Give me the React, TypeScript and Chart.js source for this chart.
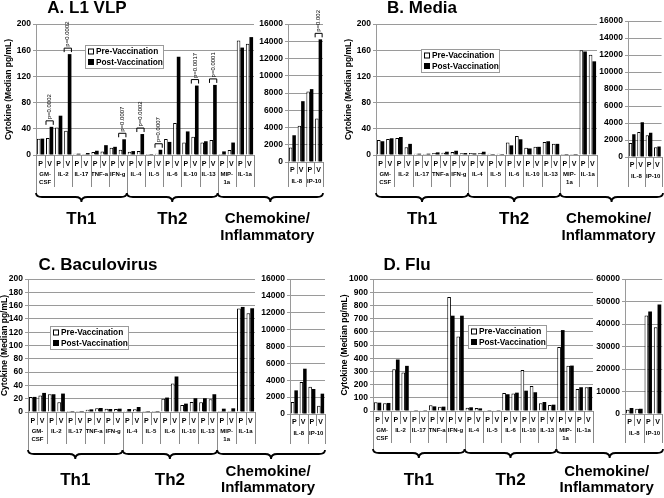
import React, { useEffect, useRef } from "react";
import { Chart, registerables } from "chart.js";

Chart.register(...registerables);

const FONT = '"Liberation Sans", Arial, Helvetica, sans-serif';
const GRID = "#9a9a9a";
const SEP = "#8a8a8a";

// ---------- categories ----------
const cytokines = ["GM-CSF", "IL-2", "IL-17", "TNF-a", "IFN-g", "IL-4", "IL-5", "IL-6", "IL-10", "IL-13", "MIP-1a", "IL-1a"];
const cytokineAxisLabels = [["GM-", "CSF"], "IL-2", "IL-17", "TNF-a", "IFN-g", "IL-4", "IL-5", "IL-6", "IL-10", "IL-13", ["MIP-", "1a"], "IL-1a"];
const chemokines = ["IL-8", "IP-10"];
const timepoints = ["P", "V"];
const groupLabelLines = [["Th1"], ["Th2"], ["Chemokine/", "Inflammatory"]];
const groupSizes = [5, 5, 2];
const seriesNames = ["Pre-Vaccination", "Post-Vaccination"];
const yAxisTitle = "Cytokine (Median pg/mL)";

// ---------- A. L1 VLP ----------
const vlpPre = [25, 26, 42, 37, 2, 1.5, 4.5, 5.5, 11, 8, 5, 6, 1.5, 2, 24.5, 49, 19, 28, 19, 23, 1.5, 7.6, 175, 170];
const vlpPost = [25, 43, 60, 154, 2, 3, 6.5, 15, 12.5, 24, 6, 32, 1.5, 8, 20, 150, 36, 106, 21, 107, 5.5, 19, 164, 180];
const vlpSecPre = [1670, 4190, 8180, 5040];
const vlpSecPost = [3100, 7050, 8450, 14220];
const vlpPIndex = [1, 3, 9, 11, 13, 17, 19];
const vlpPText = ["p=0.0002", "p=0.0002", "p=0.0007", "p=0.0002", "p=0.0007", "p=0.0017", "p=0.0001"];
const vlpSecPIndex = [3];
const vlpSecPText = ["p=0.002"];

// ---------- B. Media ----------
const mediaPre = [23, 24.5, 26, 12, 2, 1.5, 3, 3.5, 4.5, 2.5, 3, 3, 2, 2, 19, 29, 11, 12.5, 20, 17, 1.5, 1.5, 160, 153];
const mediaPost = [21, 25.5, 27.5, 17, 2, 2, 4, 5, 6.5, 3, 2.5, 5, 1.5, 1.5, 14.7, 24, 10, 12.5, 21, 17, 1.5, 1.5, 158, 143];
const mediaSecPre = [1650, 2940, 2550, 1140];
const mediaSecPost = [2670, 4080, 2860, 1250];

// ---------- C. Baculovirus ----------
const bacPre = [22.7, 25, 26.7, 14.6, 1.5, 1.5, 3.5, 5.5, 5, 4.5, 2, 4, 1.5, 1.5, 20, 43, 10.6, 15, 14.6, 19, 1.5, 1.5, 155.7, 148.6];
const bacPost = [22.7, 28.7, 26.7, 27.7, 1.5, 1.5, 4, 6, 4.5, 5, 4.5, 7.5, 1.5, 1.5, 21.7, 53.4, 12.6, 20.7, 20.7, 26.7, 5, 5.5, 158, 156];
const bacSecPre = [1420, 3790, 3240, 990];
const bacSecPost = [2800, 5370, 2960, 2410];

// ---------- D. Flu ----------
const fluPre = [66, 58, 316, 291, 1, 1, 43, 33, 863, 565, 25, 23, 1, 1, 137, 132, 311, 190, 58, 46, 484, 342, 167, 180];
const fluPost = [63, 61, 390, 342, 1, 1, 35, 33, 722, 722, 28, 20, 1, 1, 127, 139, 154, 142, 68, 48, 613, 344, 180, 182];
const fluSecPre = [1930, 2380, 43800, 38600];
const fluSecPost = [2670, 2380, 45600, 48700];

// ---------- axis ranges ----------
const smallAxisMax = 200;
const smallAxisStep = 20;
const fluAxisMax = 1000;
const fluAxisStep = 100;
const secAxisMax = 16000;
const secAxisStep = 2000;
const fluSecAxisMax = 60000;
const fluSecAxisStep = 10000;

const mainLabels = cytokines.flatMap(() => timepoints);
const secLabels = chemokines.flatMap(() => timepoints);

const panels = [
  {
    key: "A", title: "A. L1 VLP", x: 0, y: 0, w: 332, h: 250, titleX: 87, titleY: 8,
    main: { l: 36, r: 254, t: 24, b: 155 }, sec: { l: 288, r: 323, t: 24, b: 162 },
    yTitlePad: 4, legend: { x: 85, y: 45 }, thY: 219, chemY: [219, 236],
    pre: vlpPre, post: vlpPost, secPre: vlpSecPre, secPost: vlpSecPost,
    yMax: smallAxisMax, yStep: smallAxisStep, secMax: secAxisMax, secStep: secAxisStep,
    pIdx: vlpPIndex, pText: vlpPText, secPIdx: vlpSecPIndex, secPText: vlpSecPText,
  },
  {
    key: "B", title: "B. Media", x: 340, y: 0, w: 324, h: 250, titleX: 82, titleY: 8,
    main: { l: 36, r: 257, t: 24, b: 155 }, sec: { l: 288, r: 323, t: 21, b: 157 },
    yTitlePad: 4, legend: { x: 81, y: 49 }, thY: 219, chemY: [219, 236],
    pre: mediaPre, post: mediaPost, secPre: mediaSecPre, secPost: mediaSecPost,
    yMax: smallAxisMax, yStep: smallAxisStep, secMax: secAxisMax, secStep: secAxisStep,
    pIdx: [], pText: [], secPIdx: [], secPText: [],
  },
  {
    key: "C", title: "C. Baculovirus", x: 0, y: 240, w: 332, h: 258, titleX: 98, titleY: 25,
    main: { l: 28, r: 255, t: 39, b: 172 }, sec: { l: 290, r: 325, t: 39, b: 174 },
    yTitlePad: 0, legend: { x: 50, y: 86 }, thY: 240, chemY: [232, 248],
    pre: bacPre, post: bacPost, secPre: bacSecPre, secPost: bacSecPost,
    yMax: smallAxisMax, yStep: smallAxisStep, secMax: secAxisMax, secStep: secAxisStep,
    pIdx: [], pText: [], secPIdx: [], secPText: [],
  },
  {
    key: "D", title: "D. Flu", x: 340, y: 240, w: 324, h: 258, titleX: 67, titleY: 25,
    main: { l: 33, r: 253, t: 39, b: 171 }, sec: { l: 285, r: 323, t: 39, b: 174 },
    yTitlePad: 0, legend: { x: 128, y: 85 }, thY: 240, chemY: [232, 248],
    pre: fluPre, post: fluPost, secPre: fluSecPre, secPost: fluSecPost,
    yMax: fluAxisMax, yStep: fluAxisStep, secMax: fluSecAxisMax, secStep: fluSecAxisStep,
    pIdx: [], pText: [], secPIdx: [], secPText: [],
  },
];

const bold = (size: number) => ({ family: FONT, size, weight: "bold" as const });

function makeDatasets(pre: number[], post: number[]) {
  return [
    { label: seriesNames[0], data: pre, backgroundColor: "#ffffff", borderColor: "#000000", borderWidth: 1, categoryPercentage: 0.8, barPercentage: 1 },
    { label: seriesNames[1], data: post, backgroundColor: "#000000", borderColor: "#000000", borderWidth: 0, categoryPercentage: 0.8, barPercentage: 1 },
  ];
}

function boundsOf(chart: any) {
  const xs = chart.scales.x;
  const n = xs.getLabels().length;
  const p0 = xs.getPixelForValue(0);
  const step = n > 1 ? xs.getPixelForValue(1) - p0 : xs.width;
  return { n, bound: (i: number) => p0 - step / 2 + i * step };
}

function drawPBrackets(chart: any, idxs: number[], texts: string[]) {
  const ctx = chart.ctx;
  const m0 = chart.getDatasetMeta(0).data;
  const m1 = chart.getDatasetMeta(1).data;
  idxs.forEach((i, k) => {
    const a = m0[i];
    const b = m1[i];
    const x0 = a.x - a.width / 2;
    const x1 = b.x + b.width / 2;
    const yb = Math.min(a.y, b.y) - 2;
    const yt = yb - 4;
    ctx.save();
    ctx.beginPath();
    ctx.moveTo(x0, yb);
    ctx.lineTo(x0, yt);
    ctx.lineTo(x1, yt);
    ctx.lineTo(x1, yb);
    ctx.lineWidth = 1;
    ctx.strokeStyle = "#000";
    ctx.stroke();
    ctx.translate((x0 + x1) / 2, yt - 1.5);
    ctx.rotate(-Math.PI / 2);
    ctx.font = `6px ${FONT}`;
    ctx.fillStyle = "#000";
    ctx.textAlign = "left";
    ctx.textBaseline = "middle";
    ctx.fillText(texts[k], 0, 0);
    ctx.restore();
  });
}

function drawBrace(ctx: CanvasRenderingContext2D, x0: number, x1: number, y: number) {
  const r = 6;
  const mid = y + 4;
  const tip = y + 9;
  const xc = (x0 + x1) / 2;
  ctx.beginPath();
  ctx.moveTo(x0, y);
  ctx.quadraticCurveTo(x0, mid, x0 + r, mid);
  ctx.lineTo(xc - r, mid);
  ctx.quadraticCurveTo(xc, mid, xc, tip);
  ctx.quadraticCurveTo(xc, mid, xc + r, mid);
  ctx.lineTo(x1 - r, mid);
  ctx.quadraticCurveTo(x1, mid, x1, y);
  ctx.lineWidth = 1.8;
  ctx.strokeStyle = "#000";
  ctx.stroke();
}

function makeMain(canvas: HTMLCanvasElement, cfg: any) {
  const groupStarts: number[] = [];
  let acc = 0;
  groupSizes.forEach((s) => { groupStarts.push(acc); acc += s * timepoints.length; });

  const decor = {
    id: "mainDecor",
    afterDraw(chart: any) {
      const ctx = chart.ctx;
      const area = chart.chartArea;
      const { n, bound } = boundsOf(chart);
      ctx.save();
      // category separators below the axis
      ctx.strokeStyle = SEP;
      ctx.lineWidth = 1;
      for (let i = 0; i <= n; i++) {
        const len = groupStarts.includes(i) ? 38 : i % 2 === 0 ? 32 : 13;
        const x = Math.round(bound(i)) + 0.5;
        ctx.beginPath();
        ctx.moveTo(x, area.bottom);
        ctx.lineTo(x, area.bottom + len);
        ctx.stroke();
      }
      // braces and group labels
      const braceTop = area.bottom + 38;
      groupLabelLines.forEach((lines, gi) => {
        const x0 = bound(groupStarts[gi]);
        const x1 = gi === groupLabelLines.length - 1 ? cfg.sec.r : bound(groupStarts[gi] + groupSizes[gi] * timepoints.length);
        drawBrace(ctx, x0, x1, braceTop);
        const xc = (x0 + x1) / 2;
        ctx.fillStyle = "#000";
        ctx.textAlign = "center";
        ctx.textBaseline = "middle";
        if (lines.length === 1) {
          ctx.font = `bold 17px ${FONT}`;
          ctx.fillText(lines[0], xc, cfg.thY);
        } else {
          ctx.font = `bold 15px ${FONT}`;
          lines.forEach((t, li) => ctx.fillText(t, xc - 3, cfg.chemY[li]));
        }
      });
      // title
      ctx.font = `bold 17px ${FONT}`;
      ctx.fillStyle = "#000";
      ctx.textAlign = "center";
      ctx.textBaseline = "middle";
      ctx.fillText(cfg.title, cfg.titleX, cfg.titleY);
      // legend
      const lx = cfg.legend.x, ly = cfg.legend.y, lw = 78, lh = 23;
      ctx.fillStyle = "#fff";
      ctx.fillRect(lx, ly, lw, lh);
      ctx.strokeStyle = GRID;
      ctx.lineWidth = 1;
      ctx.strokeRect(lx + 0.5, ly + 0.5, lw, lh);
      chart.data.datasets.forEach((ds: any, k: number) => {
        const cy = ly + 6.5 + k * 10.5;
        ctx.fillStyle = ds.backgroundColor;
        ctx.fillRect(lx + 3, cy - 3, 6, 6);
        ctx.strokeStyle = "#000";
        ctx.strokeRect(lx + 3.5, cy - 2.5, 5, 5);
        ctx.fillStyle = "#000";
        ctx.font = `bold 8.3px ${FONT}`;
        ctx.textAlign = "left";
        ctx.textBaseline = "middle";
        ctx.fillText(ds.label, lx + 11, cy + 0.5);
      });
      ctx.restore();
      drawPBrackets(chart, cfg.pIdx, cfg.pText);
    },
  };

  return new Chart(canvas, {
    type: "bar",
    data: { labels: mainLabels, datasets: makeDatasets(cfg.pre, cfg.post) as any },
    options: {
      responsive: false,
      animation: false,
      events: [],
      layout: { padding: { left: 0, top: cfg.main.t, right: cfg.w - cfg.main.r, bottom: 0 } },
      plugins: { legend: { display: false }, tooltip: { enabled: false }, title: { display: false } },
      scales: {
        x: {
          type: "category", position: "bottom", weight: 0, offset: true,
          grid: { display: false, drawTicks: false }, border: { display: true, color: GRID },
          ticks: { font: bold(7), color: "#000", padding: 5, autoSkip: false, maxRotation: 0, minRotation: 0 },
          afterFit: (s: any) => { s.height = 14; },
        },
        x2: {
          type: "category", labels: cytokineAxisLabels as any, position: "bottom", weight: 1, offset: true,
          grid: { display: false, drawTicks: false }, border: { display: false },
          ticks: { font: { ...bold(6), lineHeight: 1.25 }, color: "#000", padding: 2, autoSkip: false, maxRotation: 0, minRotation: 0 },
          afterFit: (s: any) => { s.height = cfg.h - cfg.main.b - 14; },
        },
        y: {
          type: "linear", min: 0, max: cfg.yMax,
          ticks: { stepSize: cfg.yStep, font: bold(8.5), color: "#000", padding: 2, callback: (v: any) => String(v) },
          grid: { color: GRID, tickLength: 3 }, border: { color: GRID },
          title: { display: true, text: yAxisTitle, font: bold(8.5), color: "#000", padding: { top: cfg.yTitlePad, bottom: 0 } },
          afterFit: (s: any) => { s.width = cfg.main.l; },
        },
      } as any,
    },
    plugins: [decor],
  });
}

function makeSec(canvas: HTMLCanvasElement, cfg: any) {
  const decor = {
    id: "secDecor",
    afterDraw(chart: any) {
      const ctx = chart.ctx;
      const area = chart.chartArea;
      const { n, bound } = boundsOf(chart);
      ctx.save();
      ctx.strokeStyle = SEP;
      ctx.lineWidth = 1;
      for (let i = 0; i <= n; i++) {
        const end = i % 2 === 0 ? cfg.main.b + 32 : area.bottom + 12;
        const x = Math.round(bound(i)) + 0.5;
        ctx.beginPath();
        ctx.moveTo(x, area.bottom);
        ctx.lineTo(x, end);
        ctx.stroke();
      }
      ctx.restore();
      drawPBrackets(chart, cfg.secPIdx, cfg.secPText);
    },
  };
  const yw = 32;
  return new Chart(canvas, {
    type: "bar",
    data: { labels: secLabels, datasets: makeDatasets(cfg.secPre, cfg.secPost) as any },
    options: {
      responsive: false,
      animation: false,
      events: [],
      layout: { padding: { left: cfg.sec.l - yw, top: cfg.sec.t, right: cfg.w - cfg.sec.r, bottom: 0 } },
      plugins: { legend: { display: false }, tooltip: { enabled: false }, title: { display: false } },
      scales: {
        x: {
          type: "category", position: "bottom", weight: 0, offset: true,
          grid: { display: false, drawTicks: false }, border: { display: true, color: GRID },
          ticks: { font: bold(7), color: "#000", padding: 4, autoSkip: false, maxRotation: 0, minRotation: 0 },
          afterFit: (s: any) => { s.height = 13; },
        },
        x2: {
          type: "category", labels: chemokines, position: "bottom", weight: 1, offset: true,
          grid: { display: false, drawTicks: false }, border: { display: false },
          ticks: { font: { ...bold(6), lineHeight: 1.25 }, color: "#000", padding: 3, autoSkip: false, maxRotation: 0, minRotation: 0 },
          afterFit: (s: any) => { s.height = cfg.h - cfg.sec.b - 13; },
        },
        y: {
          type: "linear", min: 0, max: cfg.secMax,
          ticks: { stepSize: cfg.secStep, font: bold(8.5), color: "#000", padding: 2, callback: (v: any) => String(v) },
          grid: { color: GRID, tickLength: 3 }, border: { color: GRID },
          afterFit: (s: any) => { s.width = yw; },
        },
      } as any,
    },
    plugins: [decor],
  });
}

function Panel({ cfg }: { cfg: any }) {
  const mainRef = useRef<HTMLCanvasElement>(null);
  const secRef = useRef<HTMLCanvasElement>(null);
  useEffect(() => {
    const m = makeMain(mainRef.current as HTMLCanvasElement, cfg);
    const s = makeSec(secRef.current as HTMLCanvasElement, cfg);
    return () => {
      m.destroy();
      s.destroy();
    };
  }, [cfg]);
  return (
    <div style={{ position: "absolute", left: cfg.x, top: cfg.y, width: cfg.w, height: cfg.h }}>
      <canvas ref={mainRef} width={cfg.w} height={cfg.h} style={{ position: "absolute", left: 0, top: 0 }} />
      <canvas ref={secRef} width={cfg.w} height={cfg.h} style={{ position: "absolute", left: 0, top: 0 }} />
    </div>
  );
}

export default function App() {
  return (
    <div style={{ position: "fixed", left: 0, top: 0, width: 664, height: 498, background: "#fff", overflow: "hidden" }}>
      {panels.map((p) => (
        <Panel key={p.key} cfg={p} />
      ))}
    </div>
  );
}
